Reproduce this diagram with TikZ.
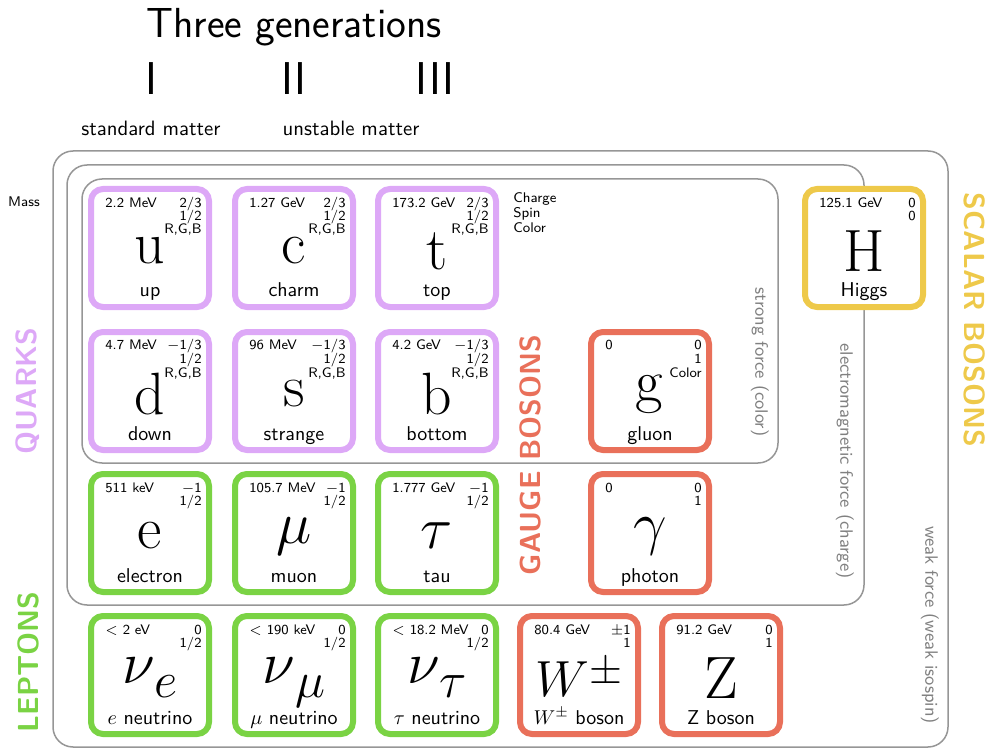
\documentclass[tikz,border=0pt]{standalone}
\usepackage{amsmath,amssymb}
\usepackage{tikz}
\usetikzlibrary{positioning}

\definecolor{quarkc}{RGB}{221,168,247}
\definecolor{leptonc}{RGB}{122,211,68}
\definecolor{gaugec}{RGB}{233,112,90}
\definecolor{scalarc}{RGB}{238,201,74}
\definecolor{forcec}{RGB}{150,150,150}

\tikzset{
	cardbox/.style={draw=#1, line width=3pt, rounded corners=6pt, fill=white, minimum size=59pt, outer sep=0pt},
	cardsmall/.style={font=\sffamily\fontsize{6.9}{8}\selectfont},
	cardsym/.style={font=\fontsize{24.88}{30}\selectfont},
	cardname/.style={font=\sffamily\fontsize{10}{12}\selectfont, anchor=base},
	family/.style={font=\sffamily\bfseries\fontsize{14.5}{17}\selectfont, text=#1},
	forcelab/.style={font=\sffamily\fontsize{9}{11}\selectfont, text=forcec!85!black, rotate=-90},
	frame/.style={draw=forcec, line width=0.75pt, rounded corners=10pt},
}

\begin{document}
\begin{tikzpicture}[x=0.5pt, y=-0.5pt, every node/.style={font=\sffamily, inner sep=0pt}]
	\useasboundingbox (0,0) rectangle (992,749);
	% heading
	\node[anchor=base, font=\sffamily\fontsize{21}{25}\selectfont] (title) at (294,38) {Three generations};
	\foreach \n/\x/\lab in {gI/151/I, gII/294/II, gIII/435/III}
		\node[anchor=base, font=\sffamily\fontsize{23}{27}\selectfont] (\n) at (\x,95) {\lab};
	\node[anchor=base, font=\sffamily\fontsize{10.4}{12}\selectfont] (stdm) at (151,136) {standard matter};
	\node[anchor=base, font=\sffamily\fontsize{10.4}{12}\selectfont] (unstm) at (351,136) {unstable matter};
	% force frames
	\draw[frame] (82,179) rectangle (778,463);
	\draw[frame] (67,165) rectangle (864,605);
	\draw[frame] (53,151) rectangle (948,747);
	\node[forcelab] (strong) at (760,362) {strong force (color)};
	\node[forcelab] (em) at (845,461) {electromagnetic force (charge)};
	\node[forcelab] (weak) at (930,625) {weak force (weak isospin)};
	% legend
	\node[anchor=base, font=\sffamily\fontsize{7}{8}\selectfont] (mass) at (24,206) {Mass};
	\foreach \n/\y/\lab in {lq/203/Charge, ls/218/Spin, lc/233/Color}
		\node[anchor=base west, font=\sffamily\fontsize{7}{8}\selectfont] (\n) at (513,\y) {\lab};
	% particles
	\foreach \n/\x/\y/\col/\sym/\lab/\mass/\q/\s/\c in {
		u/150/248/quarkc/{\mathrm{u}}/up/{2.2 MeV}/{2/3}/{1/2}/{R,G,B},
		c/294/248/quarkc/{\mathrm{c}}/charm/{1.27 GeV}/{2/3}/{1/2}/{R,G,B},
		t/437/248/quarkc/{\mathrm{t}}/top/{173.2 GeV}/{2/3}/{1/2}/{R,G,B},
		d/150/391/quarkc/{\mathrm{d}}/down/{4.7 MeV}/{$-$1/3}/{1/2}/{R,G,B},
		s/294/391/quarkc/{\mathrm{s}}/strange/{96 MeV}/{$-$1/3}/{1/2}/{R,G,B},
		b/437/391/quarkc/{\mathrm{b}}/bottom/{4.2 GeV}/{$-$1/3}/{1/2}/{R,G,B},
		g/650/391/gaugec/{\mathrm{g}}/gluon/{0}/{0}/{1}/{Color},
		e/150/533/leptonc/{\mathrm{e}}/electron/{511 keV}/{$-$1}/{1/2}/{},
		mu/294/533/leptonc/{\mu}/muon/{105.7 MeV}/{$-$1}/{1/2}/{},
		tau/437/533/leptonc/{\tau}/tau/{1.777 GeV}/{$-$1}/{1/2}/{},
		gam/650/533/gaugec/{\gamma}/photon/{0}/{0}/{1}/{},
		nue/150/675/leptonc/{\nu\raisebox{-6pt}[0pt][6.5pt]{\scalebox{.85}{$e$}}}/{$e$ neutrino}/{$<$ 2 eV}/{0}/{1/2}/{},
		numu/294/675/leptonc/{\nu\raisebox{-6pt}[0pt][6.5pt]{\scalebox{.85}{$\mu$}}}/{$\mu$ neutrino}/{$<$ 190 keV}/{0}/{1/2}/{},
		nutau/437/675/leptonc/{\nu\raisebox{-6pt}[0pt][6.5pt]{\scalebox{.85}{$\tau$}}}/{$\tau$ neutrino}/{$<$ 18.2 MeV}/{0}/{1/2}/{},
		W/579/675/gaugec/{\scalebox{0.85}{$W\raisebox{.25em}{$\scriptstyle\pm$}$}}/{$W^\pm$ boson}/{80.4 GeV}/{$\pm$1}/{1}/{},
		Z/721/675/gaugec/{\mathrm{Z}}/{Z boson}/{91.2 GeV}/{0}/{1}/{},
		H/864/248/scalarc/{\mathrm{H}}/Higgs/{125.1 GeV}/{0}/{0}/{}} {
		\node[cardbox=\col] (\n) at (\x,\y) {};
		\node[cardsmall, anchor=base west] (\n-m) at ([shift={(-45,-41)}]\n.center) {\mass};
		\node[cardsmall, anchor=base east] (\n-q) at ([shift={(52,-41)}]\n.center) {\q};
		\node[cardsmall, anchor=base east] (\n-p) at ([shift={(52,-27.5)}]\n.center) {\s};
		\node[cardsmall, anchor=base east] (\n-c) at ([shift={(52,-14)}]\n.center) {\c};
		\node[cardsym] (\n-s) at ([shift={(0,3)}]\n.center) {\scalebox{1.2}{$\sym$}};
		\node[cardname] (\n-n) at ([shift={(0,49)}]\n.center) {\lab};
	}
	% families
	\node[family=quarkc, rotate=90] (quarks) at (28,391) {QUARKS};
	\node[family=leptonc, rotate=90] (leptons) at (28,662) {LEPTONS};
	\node[family=gaugec, rotate=90] (gauge) at (530,455) {GAUGE BOSONS};
	\node[family=scalarc, rotate=-90] (scalar) at (975,320) {SCALAR BOSONS};
\end{tikzpicture}
\end{document}
